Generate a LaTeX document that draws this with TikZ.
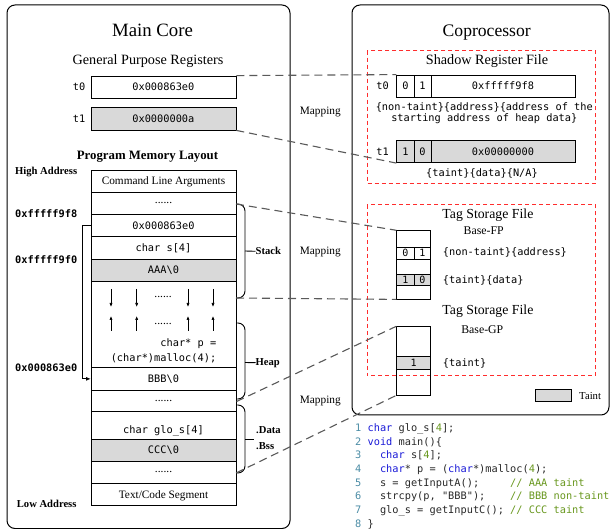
\documentclass[tikz,border=0pt]{standalone}
\usepackage{fontspec}
\setmainfont{Liberation Serif}
\newfontfamily\mono{DejaVu Sans Mono}
\usetikzlibrary{arrows.meta}
\definecolor{tgray}{RGB}{217,217,217}
\definecolor{kwc}{RGB}{25,25,215}
\definecolor{numc}{RGB}{104,151,30}
\definecolor{lnc}{RGB}{75,140,165}
\definecolor{codec}{RGB}{40,40,40}
\definecolor{mapc}{RGB}{90,90,90}
\definecolor{redc}{RGB}{255,45,45}
\newcommand\fsz[1]{\fontsize{#1}{#1}\selectfont}
\begin{document}
\begin{tikzpicture}[x=1pt,y=-1pt,
  outer/.style={draw, line width=1pt, rounded corners=8pt},
  redbox/.style={draw=redc, line width=1pt, dash pattern=on 4pt off 3pt},
  cell/.style={draw, line width=0.8pt, inner sep=0pt, font=\mono\fsz{10.3}, text height=7.5pt, text depth=0pt},
  mrow/.style={cell, minimum width=145pt},
  serifrow/.style={font=\fsz{11.3}},
  dotrow/.style={font=\fsz{11.5}, text height=1.2pt},
  maplink/.style={draw=mapc, line width=1.1pt, dash pattern=on 8pt off 5pt},
  brace/.style={line width=0.9pt, rounded corners=7pt},
  lbl/.style={font=\bfseries\fsz{10.6}, inner sep=0pt},
  mtext/.style={font=\mono\fsz{10.3}, inner sep=0pt},
  btext/.style={font=\mono\bfseries\fsz{10.3}, inner sep=0pt},
  ttl/.style={inner sep=0pt, anchor=base},
  maptxt/.style={font=\fsz{11.3}, inner sep=0pt, anchor=base},
  codeline/.style={font=\mono\fsz{10.3}\frenchspacing, text=codec, inner sep=0pt, anchor=base west},
  smallarr/.style={line width=0.7pt, -{Latex[length=4pt,width=3.2pt]}}
]
\useasboundingbox (0,0) rectangle (611,529);

% outer boxes
\draw[outer] (7,5) rectangle (290,528.5);
\draw[outer] (352,5) rectangle (609,415);
% red dashed boxes
\draw[redbox] (367.3,50.7) rectangle (595.7,183.3);
\draw[redbox] (367.3,205) rectangle (595.7,376);

% ---------- Main core ----------
\node[ttl, font=\fsz{18.8}] (mc) at (152.5,37) {Main Core};
\node[ttl, font=\fsz{14.2}] (gpr) at (148,65) {General Purpose Registers};
\node[mtext] (lt0) at (79,87) {t0};
\node[mtext] (lt1) at (79,118.5) {t1};
\node[mrow, minimum height=22pt] (t0reg) at (163.4,87) {0x000863e0};
\node[mrow, minimum height=23pt, fill=tgray] (t1reg) at (163.4,118.5) {0x0000000a};

\node[ttl, font=\bfseries\fsz{12.8}] (pml) at (147.5,159.3) {Program Memory Layout};
\node[lbl, anchor=base west] (hi) at (15,175) {High Address};
\node[lbl, anchor=base west] (lo) at (16.7,507.5) {Low Address};
\node[btext, anchor=west] (a1) at (15,213.3) {0xfffff9f8};
\node[btext, anchor=west] (a2) at (15,260) {0xfffff9f0};
\node[btext, anchor=west] (a3) at (15,367.7) {0x000863e0};

% memory rows
\node[mrow, serifrow, minimum height=22.3pt] (r1) at (163.5,181.15) {Command Line Arguments};
\node[mrow, dotrow, minimum height=21.7pt] (r2) at (163.5,203.15) {......};
\node[mrow, minimum height=22.7pt] (r3) at (163.5,225.35) {0x000863e0};
\node[mrow, minimum height=22.3pt] (r4) at (163.5,247.85) {char s[4]};
\node[mrow, minimum height=22.3pt, fill=tgray] (r5) at (163.5,270.15) {AAA\textbackslash0};
\node[mrow, minimum height=86.4pt] (r6) at (163.5,324.5) {};
\node[mrow, minimum height=22.3pt] (r7) at (163.5,378.85) {BBB\textbackslash0};
\node[mrow, dotrow, minimum height=21.7pt] (r8) at (163.5,400.85) {......};
\node[mrow, minimum height=27.3pt] (r9) at (163.5,425.35) {};
\node[mtext, text height=7.5pt, text depth=0pt] (r9t) at (163.5,430) {char glo\_s[4]};
\node[mrow, minimum height=22pt, fill=tgray] (r10) at (163.5,450) {CCC\textbackslash0};
\node[mrow, dotrow, minimum height=22.3pt] (r11) at (163.5,472.15) {......};
\node[mrow, serifrow, minimum height=22pt] (r12) at (163.5,494.3) {Text/Code Segment};

% growth arrows
\foreach \x in {111,136.7,188,213} {
  \draw[smallarr] (\x,289) -- (\x,307);
  \draw[smallarr] (\x,331) -- (\x,316);
}
\node[inner sep=0pt, font=\fsz{11.5}, text height=1.2pt] (gd1) at (163,297) {......};
\node[inner sep=0pt, font=\fsz{11.5}, text height=1.2pt] (gd2) at (163,323.5) {......};
\node[mtext, align=right, font=\mono\fontsize{10.3}{14.7}\selectfont] (hc) at (163.5,350.5) {char*~p~=\\(char*)malloc(4);};

% pointer arrow
\draw[line width=0.8pt, -{Latex[length=4.5pt,width=4pt]}] (r3.west) -- ++(-8,0) |- (r7.west);

% braces
\coordinate (stT) at (236,204); \coordinate (stB) at (236,298); \coordinate (stM) at (245,251);
\coordinate (hpT) at (236,323); \coordinate (hpB) at (236,399); \coordinate (hpM) at (245,362.5);
\coordinate (dtT) at (236,405); \coordinate (dtB) at (236,473); \coordinate (dtM) at (245,439);
\coordinate (hpD) at (236.5,401.5);
\draw[brace] (stT) -- ++(9,0) |- (stB);
\draw[brace] (hpT) -- ++(9,0) |- (hpB);
\draw[brace] (dtT) -- ++(9,0) |- (dtB);
\node[lbl, anchor=west] (stack) at (255.5,251.3) {Stack};
\node[lbl, anchor=west] (heap) at (255.5,362.7) {Heap};
\node[lbl, anchor=west] (data) at (256,430) {.Data};
\node[lbl, anchor=west] (bss) at (256,446.5) {.Bss};
\draw[line width=0.9pt] (stM) -- (stack.west);
\draw[line width=0.9pt] (hpM) -- (heap.west);
\draw[line width=0.9pt] (dtM) -- (254,439);

% ---------- Coprocessor ----------
\node[ttl, font=\fsz{17.6}] (cp) at (486.7,36.7) {Coprocessor};
\node[ttl, font=\fsz{14.2}] (srf) at (487,64.5) {Shadow Register File};
\node[mtext] (st0) at (382.5,86.15) {t0};
\node[mtext] (st1) at (382.5,151.35) {t1};
\node[cell, minimum width=17.3pt, minimum height=22.3pt] (s00) at (405.35,86.15) {0};
\node[cell, minimum width=17pt, minimum height=22.3pt] (s01) at (422.5,86.15) {1};
\node[cell, minimum width=144pt, minimum height=22.3pt] (s02) at (503,86.15) {0xfffff9f8};
\node[cell, fill=tgray, minimum width=17.3pt, minimum height=22.7pt] (s10) at (405.35,151.35) {1};
\node[cell, fill=tgray, minimum width=17pt, minimum height=22.7pt] (s11) at (422.5,151.35) {0};
\node[cell, fill=tgray, minimum width=144pt, minimum height=22.7pt] (s12) at (503,151.35) {0x00000000};
\node[mtext, align=center, font=\mono\fontsize{10.3}{11.6}\selectfont] (d0) at (484.3,113.3) {\{non-taint\}\{address\}\{address of the\\starting address of heap data\}};
\node[mtext] (d1) at (482,173.3) {\{taint\}\{data\}\{N/A\}};

\node[ttl, font=\fsz{13.8}] (tsf1) at (487.9,219) {Tag Storage File};
\node[ttl, font=\fsz{11.8}] (bfp) at (483.7,235) {Base-FP};
\node[draw, line width=0.8pt, inner sep=0pt, minimum width=34pt, minimum height=68.3pt] (fp) at (413.7,264.85) {};
\node[cell, minimum width=17.3pt, minimum height=11.7pt, font=\mono\fsz{10}] (f00) at (405.35,253.15) {0};
\node[cell, minimum width=16.7pt, minimum height=11.7pt, font=\mono\fsz{10}] (f01) at (422.35,253.15) {1};
\node[cell, fill=tgray, minimum width=17.3pt, minimum height=11.4pt, font=\mono\fsz{10}] (f10) at (405.35,280) {1};
\node[cell, fill=tgray, minimum width=16.7pt, minimum height=11.4pt, font=\mono\fsz{10}] (f11) at (422.35,280) {0};
\node[mtext, anchor=west] (fd0) at (442.7,252.6) {\{non-taint\}\{address\}};
\node[mtext, anchor=west] (fd1) at (442.7,280) {\{taint\}\{data\}};

\node[ttl, font=\fsz{13.8}] (tsf2) at (487.9,314.3) {Tag Storage File};
\node[ttl, font=\fsz{11.8}] (bgp) at (482.3,333.5) {Base-GP};
\node[draw, line width=0.8pt, inner sep=0pt, minimum width=34pt, minimum height=68.3pt] (gp) at (413.7,360.85) {};
\node[cell, fill=tgray, minimum width=34pt, minimum height=12.3pt, font=\mono\fsz{10}] (g0) at (413.7,362.85) {1};
\node[mtext, anchor=west] (gd) at (442.7,363.3) {\{taint\}};

\node[draw, line width=0.8pt, fill=tgray, inner sep=0pt, minimum width=36.7pt, minimum height=12.4pt] (leg) at (553.35,395.5) {};
\node[inner sep=0pt, anchor=west, font=\fsz{10.7}] (legt) at (579,395.7) {Taint};

% mapping labels
\node[maptxt] (m1) at (320.3,115) {Mapping};
\node[maptxt] (m2) at (320.3,255) {Mapping};
\node[maptxt] (m3) at (320.3,403.3) {Mapping};

% mapping links
\draw[maplink] (t0reg.north east) -- (s00.north west);
\draw[maplink] (t1reg.south east) -- (s10.south west);
\draw[maplink] (stT) -- (fp.north west);
\draw[maplink] (stB) -- (fp.south west);
\draw[maplink] (hpD) -- (gp.north west);
\draw[maplink] (dtB) -- (gp.south west);

% code listing
\node[codeline] (c1) at (355,431.8) {\textcolor{lnc}{1}~\textcolor{kwc}{char}~glo\_s[\textcolor{numc}{4}];};
\node[codeline] (c2) at (355,445.4) {\textcolor{lnc}{2}~\textcolor{kwc}{void}~main()\{};
\node[codeline] (c3) at (355,459.0) {\textcolor{lnc}{3}~~~\textcolor{kwc}{char}~s[\textcolor{numc}{4}];};
\node[codeline] (c4) at (355,472.6) {\textcolor{lnc}{4}~~~\textcolor{kwc}{char}*~p~=~(\textcolor{kwc}{char}*)malloc(\textcolor{numc}{4});};
\node[codeline] (c5) at (355,486.2) {\textcolor{lnc}{5}~~~s~=~getInputA();~~~~~\textcolor{numc}{//~AAA~taint}};
\node[codeline] (c6) at (355,499.8) {\textcolor{lnc}{6}~~~strcpy(p,~"BBB");~~~~\textcolor{numc}{//~BBB~non-taint}};
\node[codeline] (c7) at (355,513.4) {\textcolor{lnc}{7}~~~glo\_s~=~getInputC();~\textcolor{numc}{//~CCC~taint}};
\node[codeline] (c8) at (355,527.0) {\textcolor{lnc}{8}~\}};
\end{tikzpicture}
\end{document}
